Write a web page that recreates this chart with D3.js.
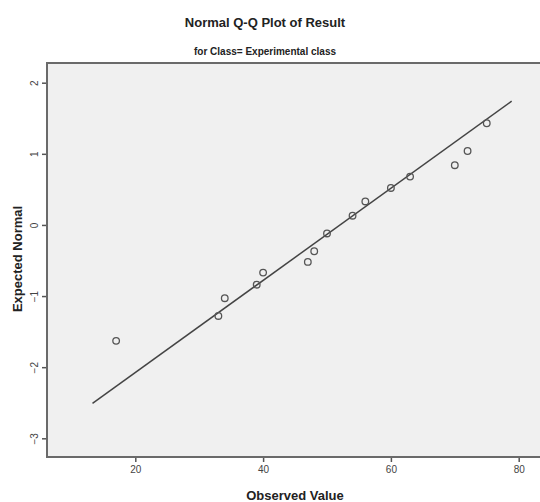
<!DOCTYPE html>
<html>
<head>
<meta charset="utf-8">
<script src="https://cdn.jsdelivr.net/npm/d3@7"></script>
<style>
body { margin: 0; background: #fff; }
svg { display: block; font-family: "Liberation Sans", Arial, sans-serif; }
</style>
</head>
<body>
<script>
// observed values and their expected normal scores
var observed = [17, 33, 34, 39, 40, 47, 48, 50, 54, 56, 60, 63, 70, 72, 75];
var expected = [-1.63, -1.28, -1.03, -0.84, -0.67, -0.52, -0.37, -0.12, 0.13, 0.33, 0.52, 0.68, 0.84, 1.04, 1.43];
// reference line end points
var lineX = [13.3, 78.9];
var lineY = [-2.51, 1.74];
var xTicks = [20, 40, 60, 80];
var yTicks = [-3, -2, -1, 0, 1, 2];

var width = 540, height = 502;
var frame = {left: 47, top: 63, right: 560, bottom: 457};

var x = d3.scaleLinear().domain([20, 80]).range([135.3, 518.7]);
var y = d3.scaleLinear().domain([-3, 2]).range([438.3, 82.7]);

var svg = d3.select("body").append("svg")
    .attr("width", width)
    .attr("height", height);

svg.append("rect")
    .attr("x", frame.left)
    .attr("y", frame.top)
    .attr("width", frame.right - frame.left)
    .attr("height", frame.bottom - frame.top)
    .attr("fill", "#f0f0f0")
    .attr("stroke", "#6a6a6a")
    .attr("stroke-width", 2);

var xAxis = svg.append("g")
    .attr("transform", "translate(0," + (frame.bottom + 1) + ")")
    .call(d3.axisBottom(x).tickValues(xTicks).tickSize(4).tickSizeOuter(0).tickPadding(4));
xAxis.select(".domain").remove();
xAxis.selectAll("line").attr("stroke", "#555").attr("stroke-width", 1.5);
xAxis.selectAll("text").attr("font-size", 10).attr("fill", "#444");

var yAxis = svg.append("g")
    .attr("transform", "translate(" + (frame.left - 1) + ",0)")
    .call(d3.axisLeft(y).tickValues(yTicks).tickFormat(d3.format("d")).tickSize(4).tickSizeOuter(0));
yAxis.select(".domain").remove();
yAxis.selectAll("line").attr("stroke", "#555").attr("stroke-width", 1.5);
yAxis.selectAll("text")
    .attr("font-size", 10)
    .attr("fill", "#444")
    .attr("x", null).attr("dy", null)
    .attr("text-anchor", "middle")
    .attr("transform", "translate(-8,0) rotate(-90)")
    .attr("y", 0);

svg.append("line")
    .attr("x1", x(lineX[0])).attr("y1", y(lineY[0]))
    .attr("x2", x(lineX[1])).attr("y2", y(lineY[1]))
    .attr("stroke", "#444")
    .attr("stroke-width", 1.5);

svg.append("g").selectAll("circle")
    .data(observed)
    .enter().append("circle")
    .attr("cx", function(d) {return x(d)})
    .attr("cy", function(d, i) {return y(expected[i])})
    .attr("r", 3.3)
    .attr("fill", "none")
    .attr("stroke", "#555")
    .attr("stroke-width", 1.3);

svg.append("text")
    .attr("x", 265).attr("y", 27)
    .attr("text-anchor", "middle")
    .attr("font-size", 13).attr("font-weight", "bold").attr("fill", "#222")
    .text("Normal Q-Q Plot of Result");

svg.append("text")
    .attr("x", 265).attr("y", 55)
    .attr("text-anchor", "middle")
    .attr("font-size", 10).attr("font-weight", "bold").attr("fill", "#222")
    .text("for Class= Experimental class");

svg.append("text")
    .attr("x", 295).attr("y", 500)
    .attr("text-anchor", "middle")
    .attr("font-size", 13).attr("font-weight", "bold").attr("fill", "#222")
    .text("Observed Value");

svg.append("text")
    .attr("transform", "translate(22,259) rotate(-90)")
    .attr("text-anchor", "middle")
    .attr("font-size", 13).attr("font-weight", "bold").attr("fill", "#222")
    .text("Expected Normal");
</script>
</body>
</html>
